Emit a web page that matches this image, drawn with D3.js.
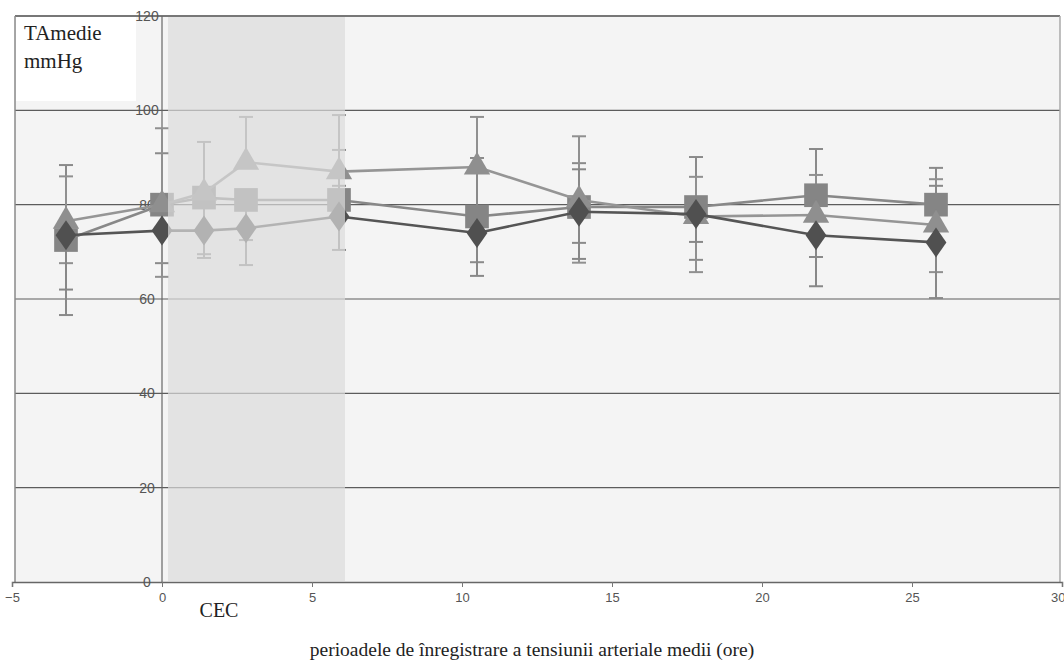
<!DOCTYPE html>
<html>
<head>
<meta charset="utf-8">
<script src="https://cdn.jsdelivr.net/npm/d3@7"></script>
<style>
  html, body { margin: 0; padding: 0; background: #ffffff; }
  svg { display: block; }
</style>
</head>
<body>
<svg id="chart" width="1064" height="660"></svg>
<script>
// ---- data ----
const hours = [-3.2, 0, 1.4, 2.8, 5.9, 10.5, 13.9, 17.8, 21.8, 25.8];
const diamondVals = [73.5, 74.5, 74.5, 75, 77.5, 74, 78.5, 78, 73.5, 72];
const squareVals = [72.5, 80, 81.5, 81, 81, 77.5, 79.5, 79.5, 82, 80];
const triangleVals = [76.5, 80, 82.5, 89, 87, 88, 81, 77.5, 77.8, 75.7];

const diamondHi = [null, null, null, null, 84, null, 87.5, null, null, 84];
const diamondLo = [62, null, 68.7, 67.2, 70.4, 64.9, 68.5, 72.1, 62.7, 60.2];
const squareHi = [88.4, 90.9, 93.3, null, 91.6, 89.9, 88.8, 90.1, 91.8, 87.8];
const squareLo = [56.6, 67.6, 69.5, 72.5, null, 67.8, 71.9, 68.3, 68.9, null];
const triangleHi = [86, 96.2, null, 98.6, 99, 98.6, 94.5, 85.9, 86.3, 85.4];
const triangleLo = [67.6, 64.7, null, null, null, null, 67.7, 65.7, null, 65.7];

const xTicks = [-5, 0, 5, 10, 15, 20, 25, 30];
const yTicks = [0, 20, 40, 60, 80, 100, 120];
const cecRange = [0.2, 6.1];

const yTitle = ["TAmedie", "mmHg"];
const xTitle = "perioadele de înregistrare a tensiunii arteriale medii (ore)";
const cecLabel = "CEC";

// ---- scales ----
const svg = d3.select("#chart");
const x = d3.scaleLinear().domain([-5, 30]).range([12, 1062]);
const y = d3.scaleLinear().domain([0, 120]).range([582, 16]);

const plotL = 15, plotR = 1060;

// plot background
svg.append("rect").attr("x", plotL).attr("y", y(120))
  .attr("width", plotR - plotL).attr("height", y(0) - y(120))
  .attr("fill", "#f4f4f4");

// white label box
svg.append("rect").attr("x", plotL + 1).attr("y", y(120) + 1)
  .attr("width", 120).attr("height", 84).attr("fill", "#ffffff");

// gridlines
svg.append("g").selectAll("line").data(yTicks.filter(d => d > 0)).join("line")
  .attr("x1", plotL).attr("x2", plotR)
  .attr("y1", d => y(d)).attr("y2", d => y(d))
  .attr("stroke", d => d === 120 ? "#777" : "#5c5c5c")
  .attr("stroke-width", d => d === 120 ? 2 : 1.2);

// frame left / right
svg.append("line").attr("x1", plotL).attr("x2", plotL).attr("y1", y(120)).attr("y2", y(0))
  .attr("stroke", "#8a8a8a").attr("stroke-width", 1.5);
svg.append("line").attr("x1", plotR).attr("x2", plotR).attr("y1", y(120)).attr("y2", y(0))
  .attr("stroke", "#aaaaaa").attr("stroke-width", 1.5);

// y axis at x=0
svg.append("line").attr("x1", x(0)).attr("x2", x(0)).attr("y1", y(120)).attr("y2", y(0))
  .attr("stroke", "#666").attr("stroke-width", 1.2);

// x axis
const xAxis = d3.axisBottom(x).tickValues(xTicks).tickSize(5).tickFormat(d3.format("d"));
const gx = svg.append("g").attr("transform", `translate(0,${y(0)})`).call(xAxis);
gx.select(".domain").attr("stroke", "#666").attr("stroke-width", 1.5);
gx.selectAll(".tick line").attr("stroke", "#777");
gx.selectAll(".tick text").attr("fill", "#555")
  .attr("font-family", "Liberation Sans, Arial, sans-serif").attr("font-size", 13).attr("dy", "0.95em")
  .attr("text-anchor", d => d === 30 ? "end" : "middle")
  .attr("dx", d => d === 30 ? 3 : 0);

// y tick labels (drawn over the gridlines, left of the y axis)
svg.append("g").selectAll("text").data(yTicks).join("text")
  .attr("x", x(0) - 15).attr("y", d => y(d))
  .attr("text-anchor", "middle").attr("dominant-baseline", "central")
  .attr("font-family", "Liberation Sans, Arial, sans-serif").attr("font-size", 14)
  .attr("fill", "#555").text(d => d);

// ---- series ----
const series = [
  { name: "square", vals: squareVals, hi: squareHi, lo: squareLo, line: "#888888", fill: "#858585", bar: "#8a8a8a" },
  { name: "triangle", vals: triangleVals, hi: triangleHi, lo: triangleLo, line: "#959595", fill: "#8f8f8f", bar: "#909090" },
  { name: "diamond", vals: diamondVals, hi: diamondHi, lo: diamondLo, line: "#555555", fill: "#505050", bar: "#888888" }
];

const sym = {
  square: d3.symbol().type(d3.symbolSquare).size(560),
  triangle: d3.symbol().type(d3.symbolTriangle).size(300),
  diamond: d3.symbol().type(d3.symbolDiamond).size(260)
};

const gData = svg.append("g");
series.forEach(s => {
  const g = gData.append("g");
  hours.forEach((h, i) => {
    const v = s.vals[i];
    [s.hi[i], s.lo[i]].forEach(e => {
      if (e == null) return;
      g.append("line").attr("x1", x(h)).attr("x2", x(h)).attr("y1", y(v)).attr("y2", y(e))
        .attr("stroke", s.bar).attr("stroke-width", 2);
      g.append("line").attr("x1", x(h) - 7).attr("x2", x(h) + 7).attr("y1", y(e)).attr("y2", y(e))
        .attr("stroke", s.bar).attr("stroke-width", 2);
    });
  });
});
series.forEach(s => {
  const g = gData.append("g");
  const line = d3.line().x((d, i) => x(hours[i])).y(d => y(d));
  g.append("path").attr("d", line(s.vals)).attr("fill", "none")
    .attr("stroke", s.line).attr("stroke-width", 2.6);
  g.selectAll("path.m").data(s.vals).join("path").attr("class", "m")
    .attr("transform", (d, i) => `translate(${x(hours[i])},${y(d)})` + (s.name === "diamond" ? " scale(1.2,1)" : ""))
    .attr("d", sym[s.name]()).attr("fill", s.fill);
});

// CEC shading overlay
svg.append("rect").attr("x", x(cecRange[0])).attr("y", y(120) + 1)
  .attr("width", x(cecRange[1]) - x(cecRange[0])).attr("height", y(0) - y(120) - 2)
  .attr("fill", "#dcdcdc").attr("opacity", 0.7);

// texts
const serif = "Liberation Serif, Times New Roman, serif";
svg.append("text").attr("x", 24).attr("y", 40).attr("font-family", serif).attr("font-size", 21)
  .attr("fill", "#222").text(yTitle[0]);
svg.append("text").attr("x", 24).attr("y", 68).attr("font-family", serif).attr("font-size", 21)
  .attr("fill", "#222").text(yTitle[1]);
svg.append("text").attr("x", 219).attr("y", 617).attr("text-anchor", "middle")
  .attr("font-family", serif).attr("font-size", 20).attr("fill", "#222").text(cecLabel);
svg.append("text").attr("x", 532).attr("y", 656).attr("text-anchor", "middle")
  .attr("font-family", serif).attr("font-size", 19.5).attr("fill", "#222").text(xTitle);
</script>
</body>
</html>
